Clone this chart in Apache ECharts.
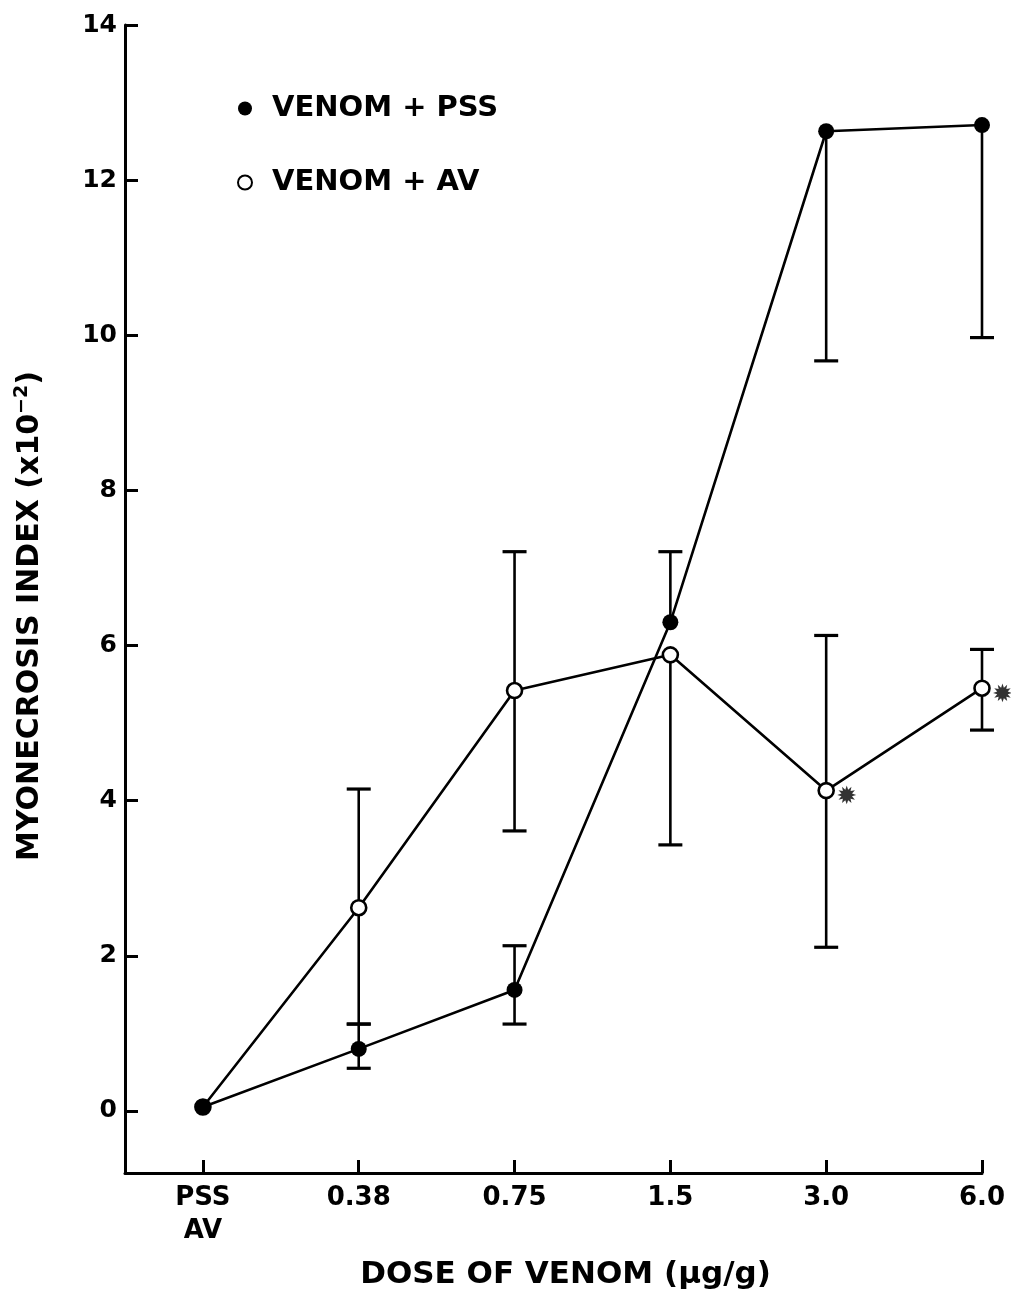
<!DOCTYPE html>
<html>
<head>
<meta charset="utf-8">
<script src="https://cdn.jsdelivr.net/npm/echarts@6/dist/echarts.min.js"></script>
<style>
html,body{margin:0;padding:0;background:#fff;}
#chart{width:1011px;height:1295px;}
</style>
</head>
<body>
<div id="chart"></div>
<script>
// ---- data ----
var doses = ['PSS\nAV', '0.38', '0.75', '1.5', '3.0', '6.0'];
var yTicks = [0, 2, 4, 6, 8, 10, 12, 14];
var pssMean = [0.05, 0.80, 1.56, 6.30, 12.63, 12.71];
var pssLow  = [null, 0.55, 1.12, null, 9.67, 9.97];
var pssHigh = [null, 1.12, 2.13, 7.21, null, null];
var avMean  = [0.05, 2.62, 5.42, 5.88, 4.13, 5.45];
var avLow   = [null, 1.12, 3.61, 3.43, 2.11, 4.91];
var avHigh  = [null, 4.15, 7.21, null, 6.13, 5.95];
var significant = [4, 5]; // dose indices marked with asterisk (venom + AV)

var FONT = 'DejaVu Sans';
var xIdx = doses.map(function (d, i) { return i; });

function pairs(mean) { return mean.map(function (v, i) { return [i, v]; }); }

function errSeries(mean, low, high) {
  return {
    type: 'custom',
    silent: true,
    z: 1,
    data: mean.map(function (v, i) { return [i, v]; }),
    renderItem: function (params, api) {
      var i = params.dataIndex;
      var x = api.value(0);
      var c = api.coord([x, api.value(1)]);
      var children = [];
      var capHalf = 12;
      [low[i], high[i]].forEach(function (e) {
        if (e === null || e === undefined) return;
        var p = api.coord([x, e]);
        children.push({ type: 'line', shape: { x1: c[0], y1: c[1], x2: p[0], y2: p[1] },
          style: { stroke: '#000', lineWidth: 2.6 } });
        children.push({ type: 'line', shape: { x1: p[0] - capHalf, y1: p[1], x2: p[0] + capHalf, y2: p[1] },
          style: { stroke: '#000', lineWidth: 3.2 } });
      });
      return { type: 'group', children: children };
    }
  };
}

var chart = echarts.init(document.getElementById('chart'), null, { renderer: 'canvas' });
var option = {
  backgroundColor: '#fff',
  animation: false,
  grid: { left: 125, right: 29, top: 25, bottom: 120 },
  legend: {
    orient: 'vertical',
    left: 232,
    top: 89,
    itemGap: 45,
    itemWidth: 16,
    itemHeight: 14,
    textStyle: { fontFamily: FONT, fontWeight: 'bold', fontSize: 29, color: '#000', padding: [0, 0, 0, 14] },
    data: [
      { name: 'VENOM + PSS', icon: 'circle', itemStyle: { color: '#000', borderWidth: 0 } },
      { name: 'VENOM + AV', icon: 'circle', itemStyle: { color: '#fff', borderColor: '#000', borderWidth: 2 } }
    ]
  },
  xAxis: {
    type: 'value',
    min: -0.5,
    max: 5,
    splitLine: { show: false },
    axisLine: { onZero: false, lineStyle: { color: '#000', width: 3 } },
    axisTick: { inside: false, length: -13, lineStyle: { color: '#000', width: 3 }, customValues: xIdx },
    axisLabel: {
      customValues: xIdx,
      formatter: function (v) { return doses[Math.round(v)]; },
      fontFamily: FONT, fontWeight: 'bold', fontSize: 26, color: '#000',
      lineHeight: 33, margin: 9
    },
    name: 'DOSE OF VENOM (µg/g)',
    nameLocation: 'middle',
    nameGap: 86,
    nameTextStyle: { fontFamily: FONT, fontWeight: 'bold', fontSize: 31, color: '#000', padding: [0, 0, 0, 24] }
  },
  yAxis: {
    type: 'value',
    min: -0.8,
    max: 14,
    splitLine: { show: false },
    axisLine: { onZero: false, lineStyle: { color: '#000', width: 3 } },
    axisTick: { inside: false, length: -13, lineStyle: { color: '#000', width: 3 }, customValues: yTicks },
    axisLabel: {
      customValues: yTicks,
      fontFamily: FONT, fontWeight: 'bold', fontSize: 25, color: '#000', margin: 8
    },
    name: '{a|MYONECROSIS INDEX (x10}{s|−2}{a|)}',
    nameLocation: 'middle',
    nameRotate: 90,
    nameGap: 78,
    nameTextStyle: {
      padding: [0, 34, 0, 0],
      rich: {
        a: { fontFamily: FONT, fontWeight: 'bold', fontSize: 30, color: '#000', lineHeight: 34 },
        s: { fontFamily: FONT, fontWeight: 'bold', fontSize: 19, color: '#000', lineHeight: 19, verticalAlign: 'top' }
      }
    }
  },
  series: [
    errSeries(pssMean, pssLow, pssHigh),
    errSeries(avMean, avLow, avHigh),
    {
      name: 'VENOM + AV',
      type: 'line',
      z: 3,
      data: pairs(avMean),
      symbol: 'circle',
      symbolSize: 15,
      lineStyle: { color: '#000', width: 2.6 },
      itemStyle: { color: '#fff', borderColor: '#000', borderWidth: 2.6 }
    },
    {
      name: 'VENOM + PSS',
      type: 'line',
      z: 4,
      data: pairs(pssMean),
      symbol: 'circle',
      symbolSize: 16,
      lineStyle: { color: '#000', width: 2.6 },
      itemStyle: { color: '#000' }
    },
    {
      type: 'scatter',
      z: 5,
      silent: true,
      symbolSize: 0,
      data: significant.map(function (i) { return [i, avMean[i]]; }),
      label: {
        show: true,
        formatter: '✹',
        position: 'right',
        distance: 10,
        offset: [0, 7],
        fontFamily: FONT,
        fontWeight: 'bold',
        fontSize: 25,
        color: '#000'
      }
    }
  ]
};
chart.setOption(option);
</script>
</body>
</html>
